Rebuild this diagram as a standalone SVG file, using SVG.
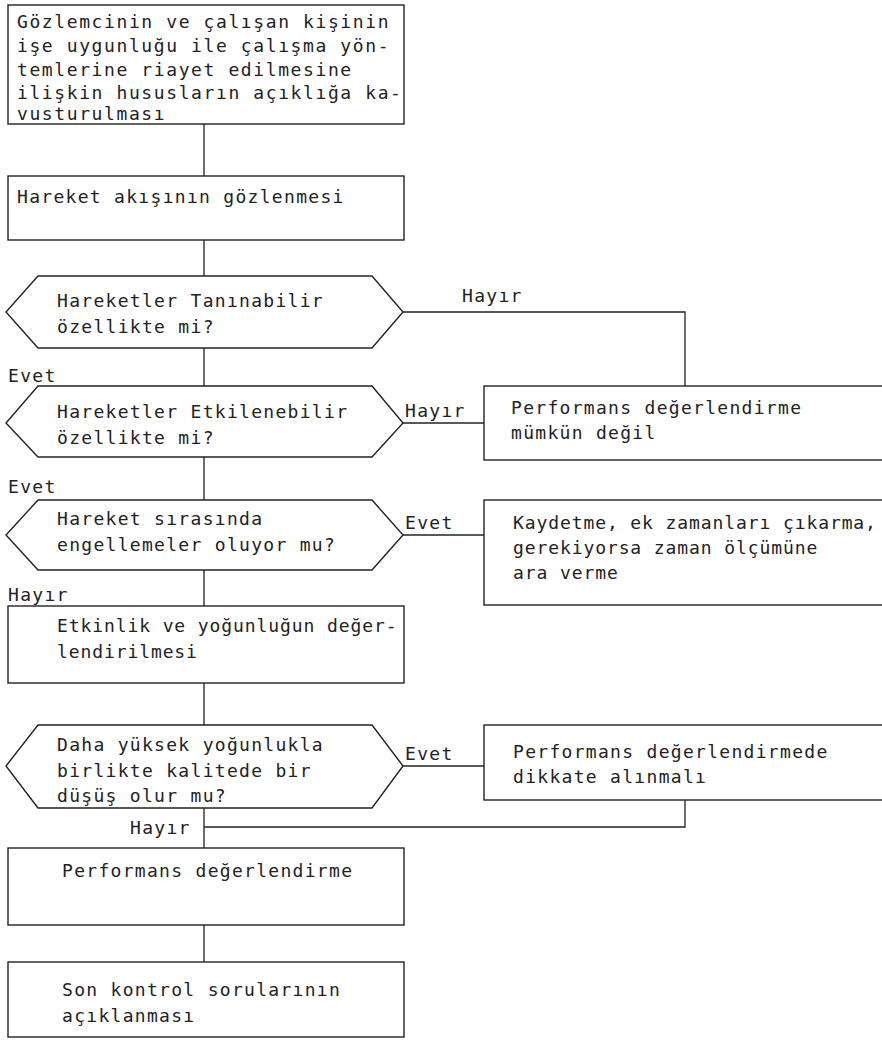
<svg xmlns="http://www.w3.org/2000/svg" width="882" height="1044" viewBox="0 0 882 1044">
<style>
.b{fill:#fff;stroke:#222;stroke-width:1.4}
.c{fill:none;stroke:#222;stroke-width:1.3}
text{font-family:"DejaVu Sans Mono","Liberation Mono",monospace;font-size:18px;letter-spacing:1.3px;fill:#222}
.t{letter-spacing:1.6px}
.n{letter-spacing:0.9px}
</style>
<rect width="882" height="1044" fill="#fff"/>
<g id="connectors">
<path class="c" d="M204 124V176M204 240V276M204 348V386M204 457V500M204 570V606M204 683V725M204 808V848M204 925V962"/>
<path class="c" d="M403 312H685V386"/>
<path class="c" d="M403 423H484"/>
<path class="c" d="M403 535H484"/>
<path class="c" d="M403 766H484"/>
<path class="c" d="M685 800V827H204"/>
</g>
<g id="labels">
<text x="462" y="302">Hayır</text>
<text x="8" y="382">Evet</text>
<text x="405" y="417">Hayır</text>
<text x="8" y="493">Evet</text>
<text x="405" y="529">Evet</text>
<text x="8" y="601">Hayır</text>
<text x="405" y="760">Evet</text>
<text x="130" y="834">Hayır</text>
</g>
<g id="n1">
<rect class="b" x="8" y="5" width="396" height="119"/>
<text class="t" x="17" y="28">Gözlemcinin ve çalışan kişinin</text>
<text class="t" x="17" y="52">işe uygunluğu ile çalışma yön-</text>
<text class="t" x="17" y="76">temlerine riayet edilmesine</text>
<text class="t" x="17" y="99">ilişkin hususların açıklığa ka-</text>
<text class="t" x="17" y="120">vusturulması</text>
</g>
<g id="n2">
<rect class="b" x="8" y="176" width="396" height="64"/>
<text x="17" y="203">Hareket akışının gözlenmesi</text>
</g>
<g id="d1">
<polygon class="b" points="38,276 372,276 403,312 372,348 38,348 6,312"/>
<text x="57" y="307">Hareketler Tanınabilir</text>
<text x="57" y="333">özellikte mi?</text>
</g>
<g id="d2">
<polygon class="b" points="38,386 372,386 403,423 372,457 38,457 6,423"/>
<text x="57" y="418">Hareketler Etkilenebilir</text>
<text x="57" y="444">özellikte mi?</text>
</g>
<g id="n3">
<rect class="b" x="484" y="386" width="400" height="74"/>
<text x="511" y="414">Performans değerlendirme</text>
<text x="511" y="439">mümkün değil</text>
</g>
<g id="d3">
<polygon class="b" points="38,500 372,500 403,535 372,570 38,570 6,535"/>
<text x="57" y="525">Hareket sırasında</text>
<text x="57" y="551">engellemeler oluyor mu?</text>
</g>
<g id="n4">
<rect class="b" x="484" y="500" width="400" height="105"/>
<text class="n" x="513" y="529">Kaydetme, ek zamanları çıkarma,</text>
<text class="n" x="513" y="554">gerekiyorsa zaman ölçümüne</text>
<text class="n" x="513" y="579">ara verme</text>
</g>
<g id="n5">
<rect class="b" x="8" y="606" width="396" height="77"/>
<text class="n" x="57" y="632">Etkinlik ve yoğunluğun değer-</text>
<text class="n" x="57" y="658">lendirilmesi</text>
</g>
<g id="d4">
<polygon class="b" points="38,725 372,725 403,766 372,808 38,808 6,766"/>
<text x="57" y="751">Daha yüksek yoğunlukla</text>
<text x="57" y="777">birlikte kalitede bir</text>
<text x="57" y="802">düşüş olur mu?</text>
</g>
<g id="n6">
<rect class="b" x="484" y="725" width="400" height="75"/>
<text x="513" y="758">Performans değerlendirmede</text>
<text x="513" y="783">dikkate alınmalı</text>
</g>
<g id="n7">
<rect class="b" x="8" y="848" width="396" height="77"/>
<text x="62" y="877">Performans değerlendirme</text>
</g>
<g id="n8">
<rect class="b" x="8" y="962" width="396" height="75"/>
<text x="62" y="996">Son kontrol sorularının</text>
<text x="62" y="1022">açıklanması</text>
</g>
</svg>
